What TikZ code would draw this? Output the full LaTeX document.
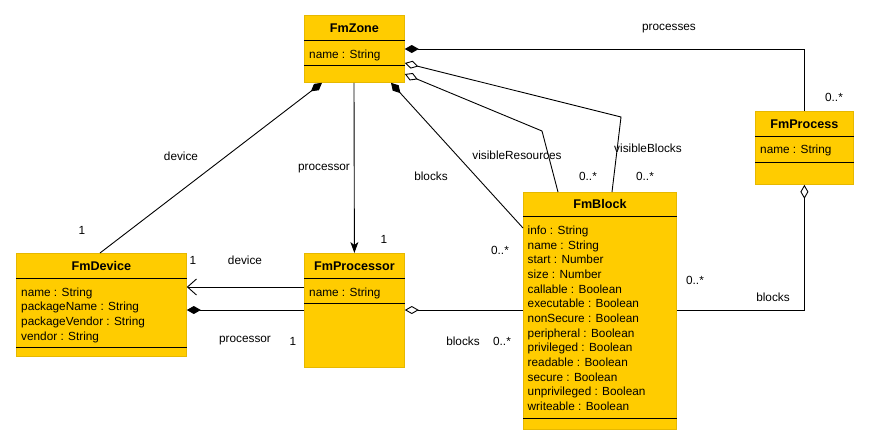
\documentclass[tikz,border=0pt]{standalone}
\usepackage{fontspec}
\setmainfont{Liberation Sans}
\usetikzlibrary{arrows.meta}
\definecolor{boxfill}{HTML}{FFCC00}
\definecolor{boxline}{HTML}{E6B800}

\begin{document}
\begin{tikzpicture}[x=1pt, y=-1pt,
    classbox/.style={draw=boxline, fill=boxfill, line width=0.8pt, inner sep=0pt, anchor=north west},
    classname/.style={font=\fontsize{12.6}{15}\selectfont\bfseries, inner sep=0pt},
    attrs/.style={font=\fontsize{11.8}{14.67}\selectfont, align=left, anchor=north west, inner sep=0pt},
    lbl/.style={font=\fontsize{11.8}{14}\selectfont, inner sep=0pt},
    rowline/.style={line width=0.9pt},
    link/.style={line width=0.9pt}]
      \useasboundingbox (0,0) rectangle (870,445);

      % classes
      \node[classbox, minimum width=100pt, minimum height=67pt] (zone) at (304,15) {};
      \draw[rowline] (zone.west |- 0,40) -- (zone.east |- 0,40);
      \draw[rowline] (zone.west |- 0,65) -- (zone.east |- 0,65);
      \node[classname] (zoneName) at (zone.north |- 0,28) {FmZone};
      \node[attrs] (zoneAttrs) at (309,49.5) {name : String};

      \node[classbox, minimum width=98pt, minimum height=73pt] (process) at (755,111) {};
      \draw[rowline] (process.west |- 0,136) -- (process.east |- 0,136);
      \draw[rowline] (process.west |- 0,162) -- (process.east |- 0,162);
      \node[classname] (processName) at (process.north |- 0,124) {FmProcess};
      \node[attrs] (processAttrs) at (760,145) {name : String};

      \node[classbox, minimum width=170pt, minimum height=103pt] (device) at (16,253) {};
      \draw[rowline] (device.west |- 0,278) -- (device.east |- 0,278);
      \draw[rowline] (device.west |- 0,347) -- (device.east |- 0,347);
      \node[classname] (deviceName) at (device.north |- 0,266) {FmDevice};
      \node[attrs] (deviceAttrs) at (21,287.5) {name : String\\packageName : String\\packageVendor : String\\vendor : String};

      \node[classbox, minimum width=100pt, minimum height=114pt] (processor) at (304,253) {};
      \draw[rowline] (processor.west |- 0,278) -- (processor.east |- 0,278);
      \draw[rowline] (processor.west |- 0,303) -- (processor.east |- 0,303);
      \node[classname] (processorName) at (processor.north |- 0,266) {FmProcessor};
      \node[attrs] (processorAttrs) at (309,287.5) {name : String};

      \node[classbox, minimum width=153pt, minimum height=237pt] (block) at (523,192) {};
      \draw[rowline] (block.west |- 0,216) -- (block.east |- 0,216);
      \draw[rowline] (block.west |- 0,418) -- (block.east |- 0,418);
      \node[classname] (blockName) at (block.north |- 0,204) {FmBlock};
      \node[attrs] (blockAttrs) at (527.5,225.7) {info : String\\name : String\\start : Number\\size : Number\\callable : Boolean\\executable : Boolean\\nonSecure : Boolean\\peripheral : Boolean\\privileged : Boolean\\readable : Boolean\\secure : Boolean\\unprivileged : Boolean\\writeable : Boolean};

      % bends
      \coordinate (vbBend) at (621,117);
      \coordinate (vrBend) at (542,131);

      % associations
      \draw[link, {Diamond[length=14pt,width=8pt]}-] (zone.east |- 0,49) -| (process.north);
      \draw[link, {Diamond[length=14pt,width=8pt,fill=white]}-] (zone.east |- 0,63) -- (vbBend) -- (block.north -| 612,0);
      \draw[link, {Diamond[length=14pt,width=8pt,fill=white]}-] (zone.east |- 0,74) -- (vrBend) -- (block.north -| 558,0);
      \draw[link, {Diamond[length=14pt,width=8pt]}-] (zone.south -| 391,0) -- (block.west |- 0,228);
      \draw[link, {Diamond[length=14pt,width=8pt]}-] (zone.south -| 322,0) -- (device.north -| 100,0);
      \draw[link, -{Stealth[length=11pt,width=8pt,inset=3pt]}] (zone.south -| 354,0) -- (processor.north);
      \draw[link, -{Straight Barb[length=9pt,width=16pt]}] (processor.west |- 0,287) -- (device.east |- 0,287);
      \draw[link, {Diamond[length=14pt,width=8pt]}-] (device.east |- 0,310) -- (processor.west |- 0,310);
      \draw[link, {Diamond[length=14pt,width=8pt,fill=white]}-] (processor.east |- 0,310) -- (block.west |- 0,310);
      \draw[link, {Diamond[length=14pt,width=8pt,fill=white]}-] (process.south) |- (block.east |- 0,310);

      % role names and multiplicities
      \node[lbl] (lProcesses) at (669,29) {processes};
      \node[lbl] (mProcesses) at (834,97) {0..*};
      \node[lbl] (lVisRes) at (517,155) {visibleResources};
      \node[lbl] (mVisRes) at (588,176) {0..*};
      \node[lbl] (lVisBlocks) at (648,148) {visibleBlocks};
      \node[lbl] (mVisBlocks) at (645,176) {0..*};
      \node[lbl] (lZoneBlocks) at (431,176) {blocks};
      \node[lbl] (mZoneBlocks) at (500,250) {0..*};
      \node[lbl] (lZoneDevice) at (181,156) {device};
      \node[lbl] (mZoneDevice) at (82,230) {1};
      \node[lbl] (lZoneProc) at (324,169) {processor};
      \node[lbl] (mZoneProc) at (384,239) {1};
      \node[lbl] (mProcDevice) at (193,260) {1};
      \node[lbl] (lProcDevice) at (245,260) {device};
      \node[lbl] (lDevProc) at (245,341) {processor};
      \node[lbl] (mDevProc) at (293,341) {1};
      \node[lbl] (lProcBlocks) at (463,341) {blocks};
      \node[lbl] (mProcBlocks) at (502,341) {0..*};
      \node[lbl] (mProcessBlocks) at (695,280) {0..*};
      \node[lbl] (lProcessBlocks) at (773,297) {blocks};
\end{tikzpicture}
\end{document}
